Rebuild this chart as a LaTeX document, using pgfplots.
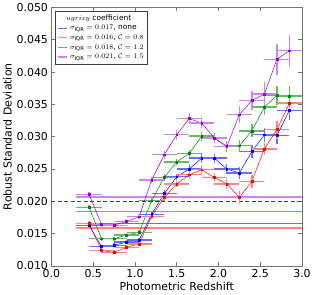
\documentclass[border=0pt]{standalone}
\usepackage{pgfplots}
\pgfplotsset{compat=1.18}
\usepackage{pgfplotstable}
\usepackage{fontspec}
\setmainfont{DejaVu Sans}
\definecolor{cblue}{rgb}{0,0,1}
\definecolor{cred}{rgb}{1,0,0}
\definecolor{cgreen}{rgb}{0,0.5,0}
\definecolor{cviolet}{rgb}{0.58,0,0.83}
\definecolor{lblue}{rgb}{0.42,0.42,1}
\definecolor{lred}{rgb}{1,0.52,0.52}
\definecolor{lgreen}{rgb}{0.4,0.72,0.4}
\definecolor{lviolet}{rgb}{0.8,0.52,0.93}
\pgfplotstableread{
x y ex ey
0.45 0.0163 0.15 0.0003
0.60 0.0130 0.15 0.0003
0.75 0.0132 0.15 0.0003
0.90 0.0137 0.15 0.0003
1.05 0.0140 0.15 0.0003
1.20 0.0180 0.15 0.0004
1.35 0.0212 0.15 0.0005
1.50 0.0238 0.15 0.0005
1.65 0.0250 0.15 0.0006
1.80 0.0267 0.15 0.0007
1.95 0.0267 0.15 0.0007
2.10 0.0250 0.15 0.0008
2.25 0.0244 0.15 0.0009
2.40 0.0277 0.15 0.0010
2.55 0.0303 0.15 0.0011
2.70 0.0302 0.15 0.0013
2.85 0.0341 0.15 0.0015
}\tblue
\pgfplotstableread{
x y ex ey
0.45 0.0166 0.15 0.0003
0.60 0.0124 0.15 0.0003
0.75 0.0121 0.15 0.0003
0.90 0.0129 0.15 0.0003
1.05 0.0134 0.15 0.0003
1.20 0.0177 0.15 0.0004
1.35 0.0206 0.15 0.0005
1.50 0.0227 0.15 0.0005
1.65 0.0241 0.15 0.0006
1.80 0.0249 0.15 0.0007
1.95 0.0237 0.15 0.0007
2.10 0.0227 0.15 0.0008
2.25 0.0206 0.15 0.0010
2.40 0.0231 0.15 0.0010
2.55 0.0281 0.15 0.0010
2.70 0.0311 0.15 0.0014
2.85 0.0352 0.15 0.0015
}\tred
\pgfplotstableread{
x y ex ey
0.45 0.0191 0.15 0.0003
0.60 0.0142 0.15 0.0003
0.75 0.0142 0.15 0.0003
0.90 0.0148 0.15 0.0003
1.05 0.0152 0.15 0.0003
1.20 0.0201 0.15 0.0004
1.35 0.0237 0.15 0.0005
1.50 0.0261 0.15 0.0005
1.65 0.0274 0.15 0.0006
1.80 0.0301 0.15 0.0007
1.95 0.0298 0.15 0.0007
2.10 0.0285 0.15 0.0008
2.25 0.0286 0.15 0.0009
2.40 0.0309 0.15 0.0010
2.55 0.0346 0.15 0.0012
2.70 0.0364 0.15 0.0015
2.85 0.0363 0.15 0.0015
}\tgreen
\pgfplotstableread{
x y ex ey
0.45 0.0211 0.15 0.0003
0.60 0.0164 0.15 0.0003
0.75 0.0163 0.15 0.0003
0.90 0.0169 0.15 0.0003
1.05 0.0176 0.15 0.0003
1.20 0.0233 0.15 0.0005
1.35 0.0272 0.15 0.0006
1.50 0.0303 0.15 0.0008
1.65 0.0328 0.15 0.0008
1.80 0.0321 0.15 0.0008
1.95 0.0298 0.15 0.0006
2.10 0.0285 0.15 0.0006
2.25 0.0334 0.15 0.0013
2.40 0.0356 0.15 0.0015
2.55 0.0366 0.15 0.0018
2.70 0.0420 0.15 0.0024
2.85 0.0433 0.15 0.0025
}\tviolet
\begin{document}
\begin{tikzpicture}
\begin{axis}[
  scale only axis, width=252pt, height=260pt,
  xmin=0, xmax=3, ymin=0.010, ymax=0.050,
  xtick={0,0.5,1,1.5,2,2.5,3},
  ytick={0.010,0.015,0.020,0.025,0.030,0.035,0.040,0.045,0.050},
  scaled y ticks=false,
  tick align=inside, tick pos=both, major tick length=4pt,
  axis line style={black!55}, tick style={black!55, line width=0.6pt},
  xticklabel style={/pgf/number format/.cd, fixed, fixed zerofill, precision=1},
  yticklabel style={/pgf/number format/.cd, fixed, fixed zerofill, precision=3},
  /pgf/number format/assume math mode=true,
  tick label style={font=\fontsize{11}{13}\selectfont},
  label style={font=\fontsize{11}{13}\selectfont},
  xlabel={Photometric Redshift}, ylabel={Robust Standard Deviation},
  xlabel style={yshift=2pt}, ylabel style={yshift=-2pt},
  legend style={at={(0.015,0.988)}, anchor=north west, font=\fontsize{7.5}{9}\selectfont,
    draw=black!75, fill=white, row sep=-0.6pt, inner sep=2pt},
  legend cell align=left,
  legend image code/.code={\draw[#1] (0cm,0cm) -- (0.33cm,0cm);},
]
\addlegendimage{empty legend}
\addlegendentry{\hspace{-4pt}$ugrizy$ coefficient}
\addplot[lblue, line width=1.4pt] coordinates {(0.3,0.0166) (3,0.0166)};
\addlegendentry{$\sigma_{\mathrm{IQR}}=0.017$, none}
\addplot[lred, line width=1.4pt] coordinates {(0.3,0.0159) (3,0.0159)};
\addlegendentry{$\sigma_{\mathrm{IQR}}=0.016$, $\mathcal{C}=0.8$}
\addplot[lgreen, line width=1.4pt] coordinates {(0.3,0.0184) (3,0.0184)};
\addlegendentry{$\sigma_{\mathrm{IQR}}=0.018$, $\mathcal{C}=1.2$}
\addplot[lviolet, line width=1.4pt] coordinates {(0.3,0.0207) (3,0.0207)};
\addlegendentry{$\sigma_{\mathrm{IQR}}=0.021$, $\mathcal{C}=1.5$}
\addplot[black!75, line width=0.7pt, dash pattern=on 4pt off 2.5pt, forget plot] coordinates {(0,0.020) (3,0.020)};
\addplot[cblue, line width=0.5pt, mark=square*, mark size=0.9pt, forget plot,
  error bars/.cd, x dir=both, x explicit, y dir=both, y explicit, error mark=none,
  error bar style={lblue, line width=1.3pt}]
  table[x=x, y=y, x error=ex, y error=ey] {\tblue};
\addplot[cred, line width=0.5pt, mark=square*, mark size=0.9pt, forget plot,
  error bars/.cd, x dir=both, x explicit, y dir=both, y explicit, error mark=none,
  error bar style={lred, line width=1.3pt}]
  table[x=x, y=y, x error=ex, y error=ey] {\tred};
\addplot[cgreen, line width=0.5pt, mark=square*, mark size=0.9pt, forget plot,
  error bars/.cd, x dir=both, x explicit, y dir=both, y explicit, error mark=none,
  error bar style={lgreen, line width=1.3pt}]
  table[x=x, y=y, x error=ex, y error=ey] {\tgreen};
\addplot[cviolet, line width=0.5pt, mark=square*, mark size=0.9pt, forget plot,
  error bars/.cd, x dir=both, x explicit, y dir=both, y explicit, error mark=none,
  error bar style={lviolet, line width=1.3pt}]
  table[x=x, y=y, x error=ex, y error=ey] {\tviolet};
\end{axis}
\end{tikzpicture}
\end{document}
